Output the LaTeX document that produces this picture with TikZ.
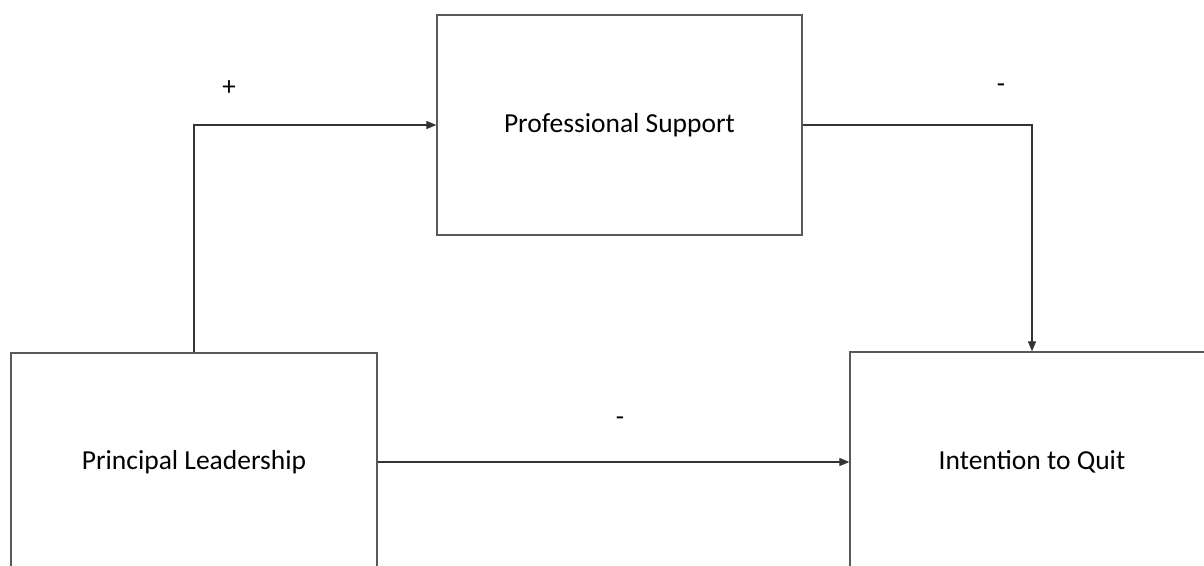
\documentclass[tikz,border=0pt]{standalone}
\usepackage{fontspec}
\setmainfont{Carlito}
\usetikzlibrary{arrows.meta}
\begin{document}
\begin{tikzpicture}[x=1pt,y=-1pt,
  box/.style={draw=black!65, line width=1.3pt, minimum width=#1, font=\fontsize{27.5}{32}\selectfont, inner sep=0pt},
  conn/.style={draw=black!80, line width=1.2pt, -{Triangle[length=10pt,width=8pt]}},
  sign/.style={font=\fontsize{27}{32}\selectfont, inner sep=0pt}]
\useasboundingbox (0,0) rectangle (1204,565);
\clip (0,0) rectangle (1204,565);
\node[box=365pt, minimum height=220pt] (ps) at (619.5,125) {Professional Support};
\node[box=366pt, minimum height=218pt] (pl) at (194,462) {Principal Leadership};
\node[box=364pt, minimum height=220pt] (iq) at (1032,462) {Intention to Quit};
\draw[conn] (pl.north) |- (ps.west);
\draw[conn] (ps.east) -| (iq.north);
\draw[conn] (pl.east) -- (iq.west);
\node[sign] (plus) at (229,88) {+};
\node[sign] (m1) at (1001,88) {-};
\node[sign] (m2) at (620,421) {-};
\end{tikzpicture}
\end{document}
